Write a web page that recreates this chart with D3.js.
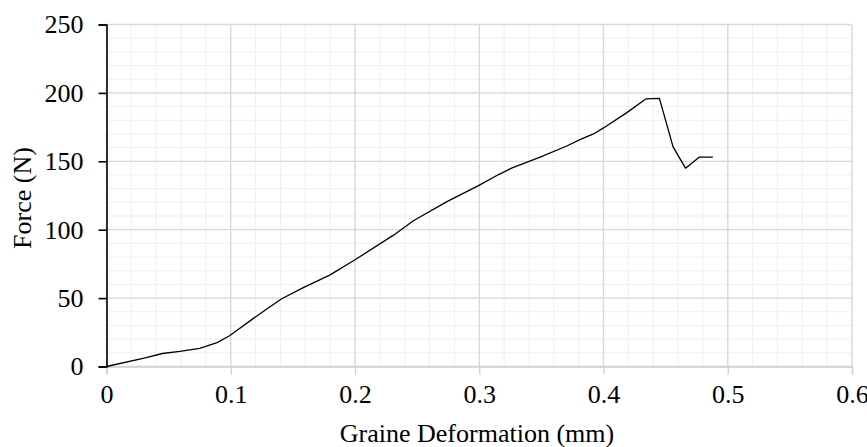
<!DOCTYPE html>
<html lang="en">
<head>
    <meta charset="UTF-8">
    <title>Force vs Graine Deformation</title>
    <style>
        body{ margin:0; background:#fff; }
        svg{ display:block; font-family:"Liberation Serif","Times New Roman",serif; }
        .minor line{ stroke:#efefef; stroke-width:1; }
        .major line{ stroke:#d9d9d9; stroke-width:1.3; }
        .tick text{ font-size:26px; fill:#000; font-family:"Liberation Serif","Times New Roman",serif; }
    </style>
    <script src="https://cdn.jsdelivr.net/npm/d3@7"></script>
</head>
<body>
    <script>
        // deformation (mm) and force (N)
        const deformation=[0,0.032,0.045,0.059,0.075,0.089,0.099,0.118,0.129,0.141,0.158,0.18,0.2,0.231,0.247,0.274,0.299,0.316,0.326,0.349,0.37,0.381,0.392,0.4,0.4185,0.434,0.445,0.456,0.466,0.477,0.488];
        const force=[0,6.5,9.5,11,13.2,17.5,22.5,35,42,49.5,57.5,67,78,96,106.5,120.5,132,140.5,145,153,161,165.8,170,174.4,185.4,195.6,196,160.5,145,153,153];
        const xTicks=[0,0.1,0.2,0.3,0.4,0.5,0.6];
        const yTicks=[0,50,100,150,200,250];

        const width=867, height=447;
        const margins={top:24.5, right:15, bottom:80.5, left:106.5};
        const data=deformation.map((d,i)=>({x:d, y:force[i]}));

        const svg=d3.select("body").append("svg")
            .attr("width",width).attr("height",height);

        const xScale=d3.scaleLinear().domain([0,0.6]).range([margins.left,width-margins.right]);
        const yScale=d3.scaleLinear().domain([0,250]).range([height-margins.bottom,margins.top]);

        //minor grid
        const minor=svg.append("g").attr("class","minor");
        minor.selectAll(".vx").data(d3.range(0,31).map(i=>i*0.02)).enter()
            .append("line")
            .attr("x1",d=>xScale(d)).attr("x2",d=>xScale(d))
            .attr("y1",yScale(0)).attr("y2",yScale(250));
        minor.selectAll(".hy").data(d3.range(0,26).map(i=>i*10)).enter()
            .append("line")
            .attr("x1",xScale(0)).attr("x2",xScale(0.6))
            .attr("y1",d=>yScale(d)).attr("y2",d=>yScale(d));

        //major grid
        const major=svg.append("g").attr("class","major");
        major.selectAll(".vx").data(xTicks).enter()
            .append("line")
            .attr("x1",d=>xScale(d)).attr("x2",d=>xScale(d))
            .attr("y1",yScale(0)).attr("y2",yScale(250));
        major.selectAll(".hy").data(yTicks).enter()
            .append("line")
            .attr("x1",xScale(0)).attr("x2",xScale(0.6))
            .attr("y1",d=>yScale(d)).attr("y2",d=>yScale(d));

        //x axis
        const xAxis=d3.axisBottom(xScale).tickValues(xTicks).tickFormat(d3.format("")).tickSizeOuter(0).tickSize(8).tickPadding(10);
        const gx=svg.append("g")
            .attr("transform",`translate(0,${yScale(0)})`)
            .call(xAxis)
            .attr("font-family",null).attr("font-size",null);
        gx.select(".domain").attr("stroke","#d0d0d0").attr("stroke-width",1.3);
        gx.selectAll(".tick line").attr("stroke","#d0d0d0").attr("stroke-width",1.3);

        //y axis
        const yAxis=d3.axisLeft(yScale).tickValues(yTicks).tickSizeOuter(0).tickSize(8).tickPadding(15);
        const gy=svg.append("g")
            .attr("transform",`translate(${xScale(0)},0)`)
            .call(yAxis)
            .attr("font-family",null).attr("font-size",null);
        gy.select(".domain").attr("stroke","#000").attr("stroke-width",1.6);
        gy.selectAll(".tick line").attr("stroke","#000").attr("stroke-width",1.6);

        //line
        const lineGen=d3.line().x(d=>xScale(d.x)).y(d=>yScale(d.y));
        svg.append("path")
            .datum(data)
            .attr("d",lineGen)
            .attr("fill","none")
            .attr("stroke","#000")
            .attr("stroke-width",1.3)
            .attr("stroke-linejoin","round");

        //axis labels
        svg.append("text")
            .attr("transform","translate(31,198) rotate(-90)")
            .style("text-anchor","middle")
            .style("font-size","26px")
            .text("Force (N)");

        svg.append("text")
            .attr("x",477).attr("y",442)
            .style("text-anchor","middle")
            .style("font-size","26px")
            .text("Graine Deformation (mm)");
    </script>
</body>
</html>
